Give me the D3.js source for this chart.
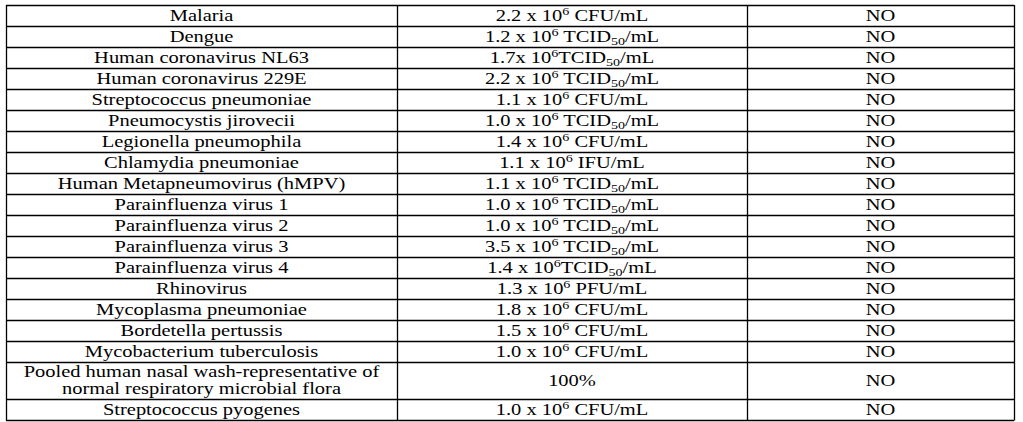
<!DOCTYPE html>
<html><head><meta charset="utf-8">
<script src="https://cdn.jsdelivr.net/npm/d3@7"></script>
<style>body{margin:0;background:#fff}</style></head>
<body><svg id="c" width="1023" height="422"></svg>
<script>
const organisms = ["Malaria","Dengue","Human coronavirus NL63","Human coronavirus 229E","Streptococcus pneumoniae","Pneumocystis jirovecii","Legionella pneumophila","Chlamydia pneumoniae","Human Metapneumovirus (hMPV)","Parainfluenza virus 1","Parainfluenza virus 2","Parainfluenza virus 3","Parainfluenza virus 4","Rhinovirus","Mycoplasma pneumoniae","Bordetella pertussis","Mycobacterium tuberculosis","Pooled human nasal wash-representative of\nnormal respiratory microbial flora","Streptococcus pyogenes"];
const concentrations = [["2.2 x ","CFU/mL"],["1.2 x ","TCID50/mL"],["1.7x ","TCID50/mL"],["2.2 x ","TCID50/mL"],["1.1 x ","CFU/mL"],["1.0 x ","TCID50/mL"],["1.4 x ","CFU/mL"],["1.1 x ","IFU/mL"],["1.1 x ","TCID50/mL"],["1.0 x ","TCID50/mL"],["1.0 x ","TCID50/mL"],["3.5 x ","TCID50/mL"],["1.4 x ","TCID50/mL"],["1.3 x ","PFU/mL"],["1.8 x ","CFU/mL"],["1.5 x ","CFU/mL"],["1.0 x ","CFU/mL"],["100%",null],["1.0 x ","CFU/mL"]];
const crossReactivity = organisms.map(()=> "NO");
const rowLines = organisms.map(o=>o.split("\n").length);

const svg = d3.select("#c");
const font = "'Liberation Serif','Times New Roman',serif";
const colEdges = [6,397,747,1014];
const unitH = 21, twoH = 37;
const hs = rowLines.map(l=> l===1?unitH:twoH);
const tops = []; let acc=5; hs.forEach(h=>{tops.push(acc);acc+=h;});
const yBottom = acc;
const SX = 1.28;

const g = svg.append("g");
[...tops, yBottom].forEach(yv=> g.append("line").attr("x1",colEdges[0]).attr("x2",colEdges[3]).attr("y1",yv+0.5).attr("y2",yv+0.5).attr("stroke","#000").attr("stroke-width",1.3));
colEdges.forEach(xv=> g.append("line").attr("x1",xv+0.5).attr("x2",xv+0.5).attr("y1",5).attr("y2",yBottom+0.5).attr("stroke","#000").attr("stroke-width",1.3));

function txt(cx,y){
  return g.append("text").attr("transform",`translate(${cx},${y}) scale(${SX},1)`).attr("text-anchor","middle")
    .style("font-family",font).style("font-size","16px").attr("fill","#000");
}
organisms.forEach((o,i)=>{
  const cx1 = (colEdges[0]+colEdges[1])/2, cx2=(colEdges[1]+colEdges[2])/2, cx3=(colEdges[2]+colEdges[3])/2;
  const lines = o.split("\n");
  const mid = tops[i]+hs[i]/2;
  lines.forEach((l,j)=> txt(cx1, mid+5+(j-(lines.length-1)/2)*17).text(l));
  const c = concentrations[i];
  const t = txt(cx2, mid+5);
  if(c[1]===null){ t.text(c[0]); }
  else {
    t.append("tspan").text(c[0]+"10");
    t.append("tspan").attr("dy",-6).style("font-size","11px").text("6");
    const u = c[1];
    const sp = (i===2||i===12)?"":" ";
    if(u.startsWith("TCID50")){
      t.append("tspan").attr("dy",6).text(sp+"TCID");
      t.append("tspan").attr("dy",3).style("font-size","11px").text("50");
      t.append("tspan").attr("dy",-3).text(u.slice(6));
    } else t.append("tspan").attr("dy",6).text(sp+u);
  }
  txt(cx3, mid+5).text(crossReactivity[i]);
});
</script></body></html>
